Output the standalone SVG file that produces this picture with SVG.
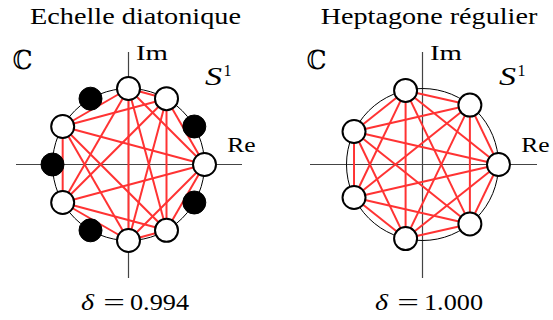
<svg xmlns="http://www.w3.org/2000/svg" width="553" height="320" viewBox="0 0 553 320">
<style>
.ax{stroke:#444;stroke-width:1.2;fill:none}
.ring{stroke:#000;stroke-width:1;fill:none}
.e{stroke:#ff3333;stroke-width:2;fill:none}
.w{fill:#fff;stroke:#000;stroke-width:2}
.b{fill:#000;stroke:#000;stroke-width:1}
.t{font-family:"Liberation Serif","DejaVu Serif",serif;fill:#000}
.m{font-family:"DejaVu Serif","Liberation Serif",serif;fill:#000}
.i{font-style:italic}
</style>
<rect width="553" height="320" fill="#fff"/>
<!-- Left panel -->
<g id="left-frame">
<text class="t" x="30" y="24" font-size="23" textLength="211" lengthAdjust="spacingAndGlyphs">Echelle diatonique</text>
<line class="ax" x1="16" y1="164.5" x2="242" y2="164.5"/>
<line class="ax" x1="128.5" y1="52" x2="128.5" y2="278"/>
<circle class="ring" cx="128.5" cy="164.5" r="76"/>
<text class="m" x="12.5" y="69" font-size="26" textLength="20" lengthAdjust="spacingAndGlyphs">ℂ</text>
<text class="t" x="136" y="60" font-size="22" textLength="32" lengthAdjust="spacingAndGlyphs">Im</text>
<text class="t" x="227.3" y="152.3" font-size="22" textLength="28.4" lengthAdjust="spacingAndGlyphs">Re</text>
<text class="t i" x="205" y="85" font-size="25" textLength="17" lengthAdjust="spacingAndGlyphs">S</text>
<text class="t" x="223.5" y="76" font-size="17" textLength="8" lengthAdjust="spacingAndGlyphs">1</text>
<text class="t i" x="81" y="310" font-size="23" textLength="13" lengthAdjust="spacingAndGlyphs">δ</text>
<text class="t" x="103.3" y="310" font-size="23" textLength="21.7" lengthAdjust="spacingAndGlyphs">=</text>
<text class="t" x="130" y="310" font-size="23" textLength="59" lengthAdjust="spacingAndGlyphs">0.994</text>
</g>
<g id="left-connectors">
<line class="e" x1="204.5" y1="164.5" x2="166.5" y2="98.68"/>
<line class="e" x1="204.5" y1="164.5" x2="128.5" y2="88.5"/>
<line class="e" x1="204.5" y1="164.5" x2="62.68" y2="126.5"/>
<line class="e" x1="204.5" y1="164.5" x2="62.68" y2="202.5"/>
<line class="e" x1="204.5" y1="164.5" x2="128.5" y2="240.5"/>
<line class="e" x1="204.5" y1="164.5" x2="166.5" y2="230.32"/>
<line class="e" x1="166.5" y1="98.68" x2="128.5" y2="88.5"/>
<line class="e" x1="166.5" y1="98.68" x2="62.68" y2="126.5"/>
<line class="e" x1="166.5" y1="98.68" x2="62.68" y2="202.5"/>
<line class="e" x1="166.5" y1="98.68" x2="128.5" y2="240.5"/>
<line class="e" x1="166.5" y1="98.68" x2="166.5" y2="230.32"/>
<line class="e" x1="128.5" y1="88.5" x2="62.68" y2="126.5"/>
<line class="e" x1="128.5" y1="88.5" x2="62.68" y2="202.5"/>
<line class="e" x1="128.5" y1="88.5" x2="128.5" y2="240.5"/>
<line class="e" x1="128.5" y1="88.5" x2="166.5" y2="230.32"/>
<line class="e" x1="62.68" y1="126.5" x2="62.68" y2="202.5"/>
<line class="e" x1="62.68" y1="126.5" x2="128.5" y2="240.5"/>
<line class="e" x1="62.68" y1="126.5" x2="166.5" y2="230.32"/>
<line class="e" x1="62.68" y1="202.5" x2="128.5" y2="240.5"/>
<line class="e" x1="62.68" y1="202.5" x2="166.5" y2="230.32"/>
<line class="e" x1="128.5" y1="240.5" x2="166.5" y2="230.32"/>
</g>
<g id="left-nodes">
<circle id="L30" class="b" cx="194.32" cy="126.5" r="11.5"/>
<circle id="L120" class="b" cx="90.5" cy="98.68" r="11.5"/>
<circle id="L180" class="b" cx="52.5" cy="164.5" r="11.5"/>
<circle id="L240" class="b" cx="90.5" cy="230.32" r="11.5"/>
<circle id="L330" class="b" cx="194.32" cy="202.5" r="11.5"/>
<circle id="L0" class="w" cx="204.5" cy="164.5" r="11.5"/>
<circle id="L60" class="w" cx="166.5" cy="98.68" r="11.5"/>
<circle id="L90" class="w" cx="128.5" cy="88.5" r="11.5"/>
<circle id="L150" class="w" cx="62.68" cy="126.5" r="11.5"/>
<circle id="L210" class="w" cx="62.68" cy="202.5" r="11.5"/>
<circle id="L270" class="w" cx="128.5" cy="240.5" r="11.5"/>
<circle id="L300" class="w" cx="166.5" cy="230.32" r="11.5"/>
</g>
<!-- Right panel -->
<g id="right-frame">
<text class="t" x="320.7" y="24" font-size="23" textLength="216.6" lengthAdjust="spacingAndGlyphs">Heptagone régulier</text>
<line class="ax" x1="310" y1="164.5" x2="537" y2="164.5"/>
<line class="ax" x1="422.5" y1="52" x2="422.5" y2="278"/>
<circle class="ring" cx="422.5" cy="164.5" r="76"/>
<text class="m" x="306.5" y="69" font-size="26" textLength="20" lengthAdjust="spacingAndGlyphs">ℂ</text>
<text class="t" x="430" y="60" font-size="22" textLength="32" lengthAdjust="spacingAndGlyphs">Im</text>
<text class="t" x="521.3" y="152.3" font-size="22" textLength="28.4" lengthAdjust="spacingAndGlyphs">Re</text>
<text class="t i" x="499" y="85" font-size="25" textLength="17" lengthAdjust="spacingAndGlyphs">S</text>
<text class="t" x="517.5" y="76" font-size="17" textLength="8" lengthAdjust="spacingAndGlyphs">1</text>
<text class="t i" x="375" y="310" font-size="23" textLength="13" lengthAdjust="spacingAndGlyphs">δ</text>
<text class="t" x="397.3" y="310" font-size="23" textLength="21.7" lengthAdjust="spacingAndGlyphs">=</text>
<text class="t" x="424" y="310" font-size="23" textLength="59" lengthAdjust="spacingAndGlyphs">1.000</text>
</g>
<g id="right-connectors">
<line class="e" x1="498.5" y1="164.5" x2="469.89" y2="105.08"/>
<line class="e" x1="498.5" y1="164.5" x2="405.59" y2="90.41"/>
<line class="e" x1="498.5" y1="164.5" x2="354.03" y2="131.53"/>
<line class="e" x1="498.5" y1="164.5" x2="354.03" y2="197.47"/>
<line class="e" x1="498.5" y1="164.5" x2="405.59" y2="238.59"/>
<line class="e" x1="498.5" y1="164.5" x2="469.89" y2="223.92"/>
<line class="e" x1="469.89" y1="105.08" x2="405.59" y2="90.41"/>
<line class="e" x1="469.89" y1="105.08" x2="354.03" y2="131.53"/>
<line class="e" x1="469.89" y1="105.08" x2="354.03" y2="197.47"/>
<line class="e" x1="469.89" y1="105.08" x2="405.59" y2="238.59"/>
<line class="e" x1="469.89" y1="105.08" x2="469.89" y2="223.92"/>
<line class="e" x1="405.59" y1="90.41" x2="354.03" y2="131.53"/>
<line class="e" x1="405.59" y1="90.41" x2="354.03" y2="197.47"/>
<line class="e" x1="405.59" y1="90.41" x2="405.59" y2="238.59"/>
<line class="e" x1="405.59" y1="90.41" x2="469.89" y2="223.92"/>
<line class="e" x1="354.03" y1="131.53" x2="354.03" y2="197.47"/>
<line class="e" x1="354.03" y1="131.53" x2="405.59" y2="238.59"/>
<line class="e" x1="354.03" y1="131.53" x2="469.89" y2="223.92"/>
<line class="e" x1="354.03" y1="197.47" x2="405.59" y2="238.59"/>
<line class="e" x1="354.03" y1="197.47" x2="469.89" y2="223.92"/>
<line class="e" x1="405.59" y1="238.59" x2="469.89" y2="223.92"/>
</g>
<g id="right-nodes">
<circle id="R0" class="w" cx="498.5" cy="164.5" r="11.5"/>
<circle id="R1" class="w" cx="469.89" cy="105.08" r="11.5"/>
<circle id="R2" class="w" cx="405.59" cy="90.41" r="11.5"/>
<circle id="R3" class="w" cx="354.03" cy="131.53" r="11.5"/>
<circle id="R4" class="w" cx="354.03" cy="197.47" r="11.5"/>
<circle id="R5" class="w" cx="405.59" cy="238.59" r="11.5"/>
<circle id="R6" class="w" cx="469.89" cy="223.92" r="11.5"/>
</g>
</svg>
